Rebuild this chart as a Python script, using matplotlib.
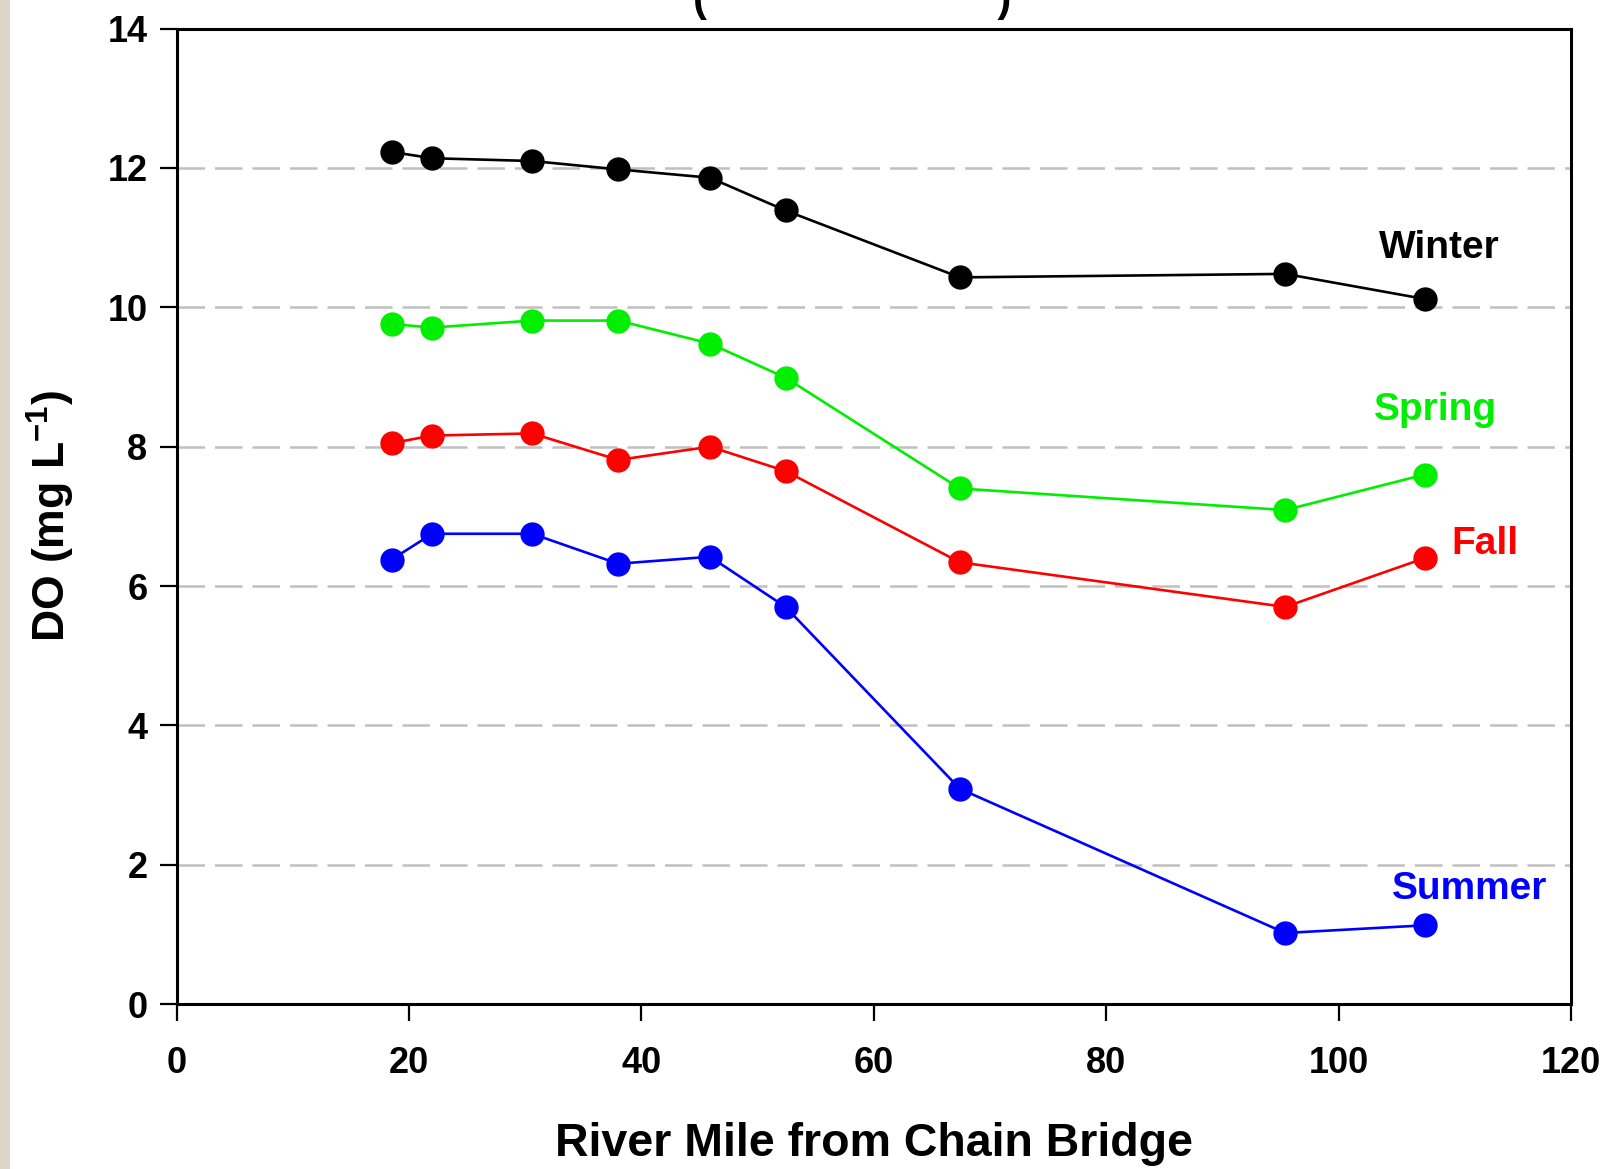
import numpy as np
import matplotlib
matplotlib.use("Agg")
import matplotlib.pyplot as plt
from matplotlib.patches import Rectangle

plt.rcParams['font.family'] = ['Liberation Sans', 'DejaVu Sans']
plt.rcParams['font.weight'] = 'bold'
plt.rcParams['mathtext.fontset'] = 'custom'
plt.rcParams['mathtext.rm'] = 'Liberation Sans'
plt.rcParams['mathtext.bf'] = 'Liberation Sans:bold'

# river mile of each station
miles = [18.5, 22.0, 30.6, 38.0, 45.9, 52.4, 67.4, 95.4, 107.4]

# dissolved oxygen by season (mg/L)
winter = [12.23, 12.14, 12.10, 11.98, 11.86, 11.39, 10.43, 10.48, 10.12]
spring = [9.76, 9.71, 9.81, 9.81, 9.48, 8.99, 7.40, 7.09, 7.60]
fall = [8.05, 8.16, 8.19, 7.81, 8.00, 7.65, 6.34, 5.70, 6.40]
summer = [6.38, 6.75, 6.75, 6.32, 6.42, 5.70, 3.09, 1.02, 1.13]

seasons = ['Winter', 'Spring', 'Fall', 'Summer']
colors = ['black', '#00ee00', '#ff0000', '#0000ff']
label_pos = [(108.7, 10.85), (108.3, 8.52), (112.6, 6.60), (111.3, 1.65)]

fig = plt.figure(figsize=(16.1, 11.69), dpi=100)
ax = fig.add_axes([0.1097, 0.1411, 0.8661, 0.8344])

# beige strip on the far left
fig.patches.append(Rectangle((0, 0), 0.006, 1, transform=fig.transFigure,
                             facecolor='#ddd5c8', edgecolor='none'))

for y in range(2, 14, 2):
    ax.axhline(y, color='#c0c0c0', lw=1.8, dashes=(11, 4), zorder=1)

for vals, c, name, (lx, ly) in zip([winter, spring, fall, summer], colors, seasons, label_pos):
    ax.plot(miles, vals, '-o', color=c, lw=1.9, ms=16.5, zorder=3)
    ax.text(lx, ly, name, color=c, fontsize=28, fontweight='bold',
            ha='center', va='center')

ax.set_xlim(0, 120)
ax.set_ylim(0, 14)
ax.set_xticks(np.arange(0, 121, 20))
ax.set_yticks(np.arange(0, 15, 2))
ax.tick_params(direction='out', length=12, width=1.6, labelsize=26, pad=18)
ax.tick_params(axis='y', pad=9)
for s in ax.spines.values():
    s.set_linewidth(2.2)

ax.set_xlabel('River Mile from Chain Bridge', fontsize=33.5, fontweight='bold', labelpad=30)
ax.set_ylabel(r'DO (mg L$^{-1}$)', fontsize=32, fontweight='bold', labelpad=22)

# title sits above the frame, mostly cropped
fig.text(0.529, 1.0, '(                         )', fontsize=30, fontweight='bold',
         ha='center', va='center')

fig.savefig('out.png', dpi=100)
